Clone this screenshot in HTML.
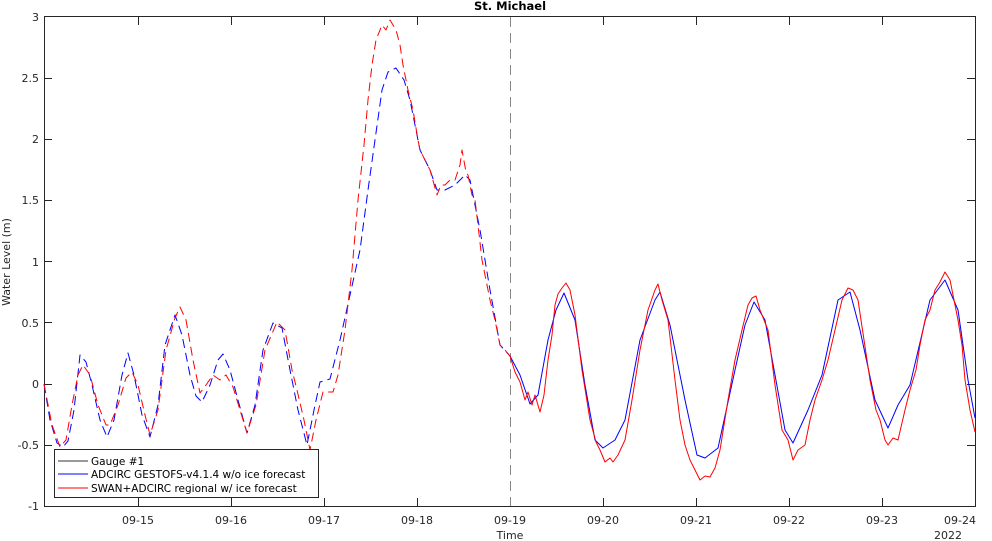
<!DOCTYPE html>
<html><head><meta charset="utf-8"><style>
html,body{margin:0;padding:0;background:#fff;}
svg{display:block;font-family:"DejaVu Sans","Liberation Sans",sans-serif;}
</style></head><body>
<svg width="992" height="541" viewBox="0 0 992 541" xmlns="http://www.w3.org/2000/svg">
<rect width="992" height="541" fill="#fff"/>
<text x="510" y="10" font-size="11.5" font-weight="bold" text-anchor="middle">St. Michael</text>
<g stroke="#262626" stroke-width="1" fill="none">
<rect x="44.5" y="16.5" width="931" height="490" stroke="#262626"/>
</g>
<g stroke="#262626" stroke-width="1">
<path d="M138.5 506v-8M231.5 506v-8M324.5 506v-8M417.5 506v-8M510.5 506v-8M603.5 506v-8M696.5 506v-8M789.5 506v-8M882.5 506v-8
M138.5 17v8M231.5 17v8M324.5 17v8M417.5 17v8M510.5 17v8M603.5 17v8M696.5 17v8M789.5 17v8M882.5 17v8
M44 78.5h8M44 139.5h8M44 200.5h8M44 261.5h8M44 322.5h8M44 384.5h8M44 445.5h8
M975 78.5h-8M975 139.5h-8M975 200.5h-8M975 261.5h-8M975 322.5h-8M975 384.5h-8M975 445.5h-8"/>
</g>
<g font-size="11" fill="#262626" text-anchor="end">
<text x="39" y="21">3</text><text x="39" y="82">2.5</text><text x="39" y="143">2</text><text x="39" y="204">1.5</text>
<text x="39" y="266">1</text><text x="39" y="327">0.5</text><text x="39" y="388">0</text><text x="39" y="449">-0.5</text><text x="39" y="510">-1</text>
</g>
<g font-size="11" fill="#262626" text-anchor="middle">
<text x="138" y="524">09-15</text><text x="231" y="524">09-16</text><text x="324" y="524">09-17</text><text x="417" y="524">09-18</text>
<text x="510" y="524">09-19</text><text x="603" y="524">09-20</text><text x="696" y="524">09-21</text><text x="789" y="524">09-22</text>
<text x="882" y="524">09-23</text><text x="960" y="524">09-24</text>
<text x="510" y="539">Time</text><text x="948" y="539">2022</text>
<text transform="translate(10,262) rotate(-90)">Water Level (m)</text>
</g>
<line x1="510.5" y1="17" x2="510.5" y2="506" stroke="#888" stroke-dasharray="10,6"/>
<g fill="none" stroke-width="1" stroke-linejoin="round">
<polyline stroke="#0000ff" stroke-dasharray="9,5" points="44,384 50,420 57,443 63,447 68,441 74,410 80,355 86,362 92,385 100,420 107,437 114,420 122,375 128,353 134,375 142,415 150,437 158,405 165,345 175,315 182,335 190,375 196,396 202,402 210,385 218,360 223,354 230,370 238,400 247,433 255,405 263,350 273,323 282,328 290,370 298,410 307,445 314,410 320,382 330,379 340,340 350,295 360,250 368,190 375,140 382,90 388,72 396,68 404,80 410,100 415,125 420,150 430,170 437,190 445,190 455,185 465,175 470,180 480,230 490,290 500,345 510,356"/>
<polyline stroke="#ff0000" stroke-dasharray="9,5" points="44,384 52,425 60,447 66,440 72,405 78,375 83,365 90,375 98,405 106,425 110,425 118,405 126,378 132,372 138,385 145,415 150,435 158,410 166,350 175,318 180,307 186,320 193,360 200,393 206,385 213,375 220,380 226,375 233,387 240,410 247,433 256,405 265,350 277,322 285,330 292,370 297,390 304,420 310,450 316,420 323,392 333,392 338,375 345,330 352,270 358,200 364,145 368,100 372,65 376,40 382,25 386,30 390,20 396,30 400,45 403,65 408,90 413,110 418,140 420,150 430,170 437,195 441,185 445,185 450,180 455,180 460,165 462,150 466,172 468,175 472,195 475,200 478,225 482,260 486,280 490,300 495,320 500,345 505,350 510,356"/>
<polyline stroke="#0000ff" points="510,356 520,375 530,404 538,395 548,340 556,310 564,293 575,320 585,385 595,440 603,448 615,440 625,420 640,340 655,300 660,292 670,325 685,400 697,455 705,458 718,448 735,370 745,325 754,302 765,320 775,375 785,430 793,443 808,410 822,375 838,300 850,292 860,330 875,400 888,428 898,405 910,385 930,300 945,280 958,310 968,380 975,418"/>
<polyline stroke="#ff0000" points="510,356 515,372 520,382 525,400 528,392 532,405 535,395 540,412 544,395 548,360 552,335 555,305 558,294 562,288 566,283 570,290 575,315 582,370 590,420 596,442 600,450 605,462 610,458 613,462 618,455 625,440 632,400 640,350 648,310 655,290 658,284 662,300 668,320 675,380 680,420 685,445 690,460 695,470 700,480 705,476 710,477 715,468 720,450 728,400 735,360 742,330 748,305 752,298 756,296 760,310 768,330 775,385 782,430 788,440 793,460 798,450 805,445 810,420 815,400 822,380 828,360 835,330 842,300 848,288 853,290 858,300 864,340 870,380 876,410 880,420 885,440 888,445 893,438 898,440 905,410 910,390 916,370 920,345 925,320 930,310 935,290 940,282 945,272 950,280 953,295 958,320 962,345 965,380 970,410 975,432"/>
</g>
<g>
<rect x="54.5" y="449.5" width="264" height="48" fill="#fff" stroke="#262626"/>
<line x1="58" y1="461" x2="88" y2="461" stroke="#333"/>
<line x1="58" y1="474" x2="88" y2="474" stroke="#0000ff"/>
<line x1="58" y1="488" x2="88" y2="488" stroke="#ff0000"/>
<g font-size="10.5" fill="#000">
<text x="91" y="465">Gauge #1</text>
<text x="91" y="478">ADCIRC GESTOFS-v4.1.4 w/o ice forecast</text>
<text x="91" y="492">SWAN+ADCIRC regional w/ ice forecast</text>
</g>
</g>
</svg>
</body></html>
